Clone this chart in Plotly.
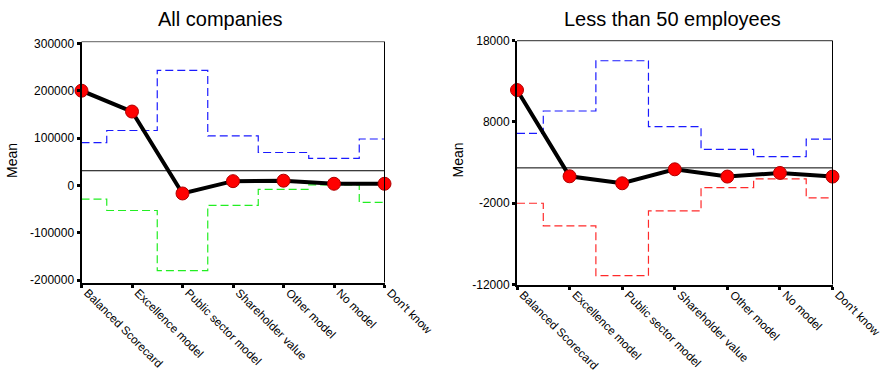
import plotly.graph_objects as go

categories = ["Balanced Scorecard", "Excellence model", "Public sector model",
              "Shareholder value", "Other model", "No model", "Don't know"]

# All companies
all_mean = [200000, 156000, -17000, 9000, 10000, 3500, 3500]
all_upper = [90500, 116000, 243000, 104600, 69500, 57000, 98000]
all_lower = [-28800, -53000, -180000, -42000, -8400, 1000, -36000]
all_ref = 31000
all_ticks = [-200000, -100000, 0, 100000, 200000, 300000]

# Less than 50 employees
small_mean = [11930, 1315, 455, 2175, 1280, 1730, 1280]
small_upper = [6600, 9350, 15530, 7420, 4630, 3735, 5900]
small_lower = [-2000, -4780, -10920, -2940, -75, 1000, -1340]
small_ref = 2350
small_ticks = [-12000, -2000, 8000, 18000]

W, H = 885, 372
FONT = "Arial, Liberation Sans, sans-serif"

fig = go.Figure()


def add_panel(xa, ya, mean, upper, lower, ref, upper_color, lower_color):
    fig.add_trace(go.Scatter(x=categories, y=[ref] * len(categories), mode="lines",
                             line=dict(color="black", width=1), xaxis=xa, yaxis=ya,
                             hoverinfo="skip", showlegend=False))
    fig.add_trace(go.Scatter(x=categories, y=upper, mode="lines", line_shape="hvh",
                             line=dict(color=upper_color, width=1.2, dash="8px,4px"),
                             xaxis=xa, yaxis=ya, showlegend=False))
    fig.add_trace(go.Scatter(x=categories, y=lower, mode="lines", line_shape="hvh",
                             line=dict(color=lower_color, width=1.2, dash="8px,4px"),
                             xaxis=xa, yaxis=ya, showlegend=False))
    fig.add_trace(go.Scatter(x=categories, y=mean, mode="lines+markers",
                             line=dict(color="black", width=4),
                             marker=dict(color="#ff0000", size=13,
                                         line=dict(color="#b00000", width=1)),
                             cliponaxis=False, xaxis=xa, yaxis=ya, showlegend=False))


add_panel("x", "y", all_mean, all_upper, all_lower, all_ref, "#1a1aff", "#22ee22")
add_panel("x2", "y2", small_mean, small_upper, small_lower, small_ref, "#1a1aff", "#ff2a2a")

xcommon = dict(type="category", categoryorder="array", categoryarray=categories,
               range=[0, 6], tickangle=45, ticks="outside", ticklen=3, tickwidth=3,
               tickcolor="black", showline=True, linecolor="black", linewidth=2,
               showgrid=False, zeroline=False, automargin=False,
               ticklabelshift=6, ticklabelstandoff=-6,
               tickfont=dict(family=FONT, size=11.7, color="black"))
ycommon = dict(ticks="outside", ticklen=3, tickwidth=3, tickcolor="black",
               showline=True, linecolor="black", linewidth=2, showgrid=False,
               zeroline=False, automargin=False,
               tickfont=dict(family=FONT, size=12, color="black"))

fig.update_layout(
    width=W, height=H,
    margin=dict(l=0, r=0, t=0, b=0),
    paper_bgcolor="white", plot_bgcolor="white",
    showlegend=False,
    xaxis=dict(xcommon, domain=[81.5 / W, 384.5 / W], anchor="y"),
    yaxis=dict(ycommon, domain=[1 - 282.5 / H, 1 - 41.7 / H], anchor="x",
               range=[-205000, 303500], tickvals=all_ticks,
               ticktext=[str(v) for v in all_ticks]),
    xaxis2=dict(xcommon, domain=[517 / W, 832.5 / W], anchor="y2"),
    yaxis2=dict(ycommon, domain=[1 - 284.5 / H, 1 - 40.7 / H], anchor="x2",
                range=[-12000, 18000], tickvals=small_ticks,
                ticktext=[str(v) for v in small_ticks]),
    shapes=[
        dict(type="line", xref="x domain", yref="y domain", x0=0, x1=1, y0=1, y1=1,
             line=dict(color="#808080", width=1.2)),
        dict(type="line", xref="x domain", yref="y domain", x0=1, x1=1, y0=0, y1=1,
             line=dict(color="black", width=1)),
        dict(type="line", xref="x2 domain", yref="y2 domain", x0=0, x1=1, y0=1, y1=1,
             line=dict(color="#555555", width=1.2)),
        dict(type="line", xref="x2 domain", yref="y2 domain", x0=1, x1=1, y0=0, y1=1,
             line=dict(color="black", width=1)),
    ],
    annotations=[
        dict(text="All companies", x=220 / W, y=1 - 19 / H, xref="paper", yref="paper",
             showarrow=False, xanchor="center", yanchor="middle",
             font=dict(family=FONT, size=20, color="black")),
        dict(text="Less than 50 employees", x=672 / W, y=1 - 19 / H, xref="paper",
             yref="paper", showarrow=False, xanchor="center", yanchor="middle",
             font=dict(family=FONT, size=20, color="black")),
        dict(text="Mean", x=12.5 / W, y=1 - 160.5 / H, xref="paper", yref="paper",
             showarrow=False, textangle=-90, xanchor="center", yanchor="middle",
             font=dict(family=FONT, size=14, color="black")),
        dict(text="Mean", x=457.5 / W, y=1 - 160 / H, xref="paper", yref="paper",
             showarrow=False, textangle=-90, xanchor="center", yanchor="middle",
             font=dict(family=FONT, size=14, color="black")),
    ],
)

fig.write_html("out.html",
               config={"displayModeBar": False},
               post_script="document.body.style.margin='0';"
                           "document.body.style.overflow='hidden';")
